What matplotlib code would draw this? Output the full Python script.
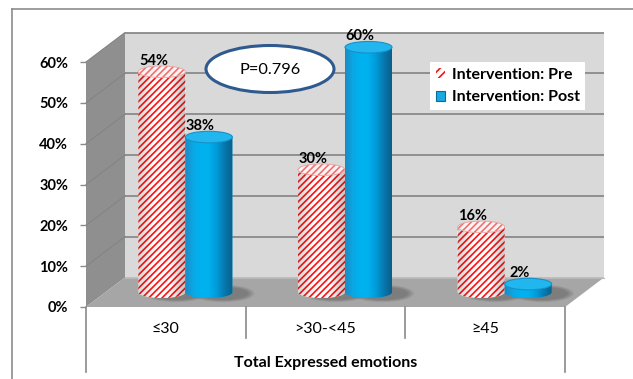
import numpy as np
import matplotlib
matplotlib.use("Agg")
import matplotlib.pyplot as plt
from matplotlib.patches import Polygon, Ellipse, Patch, Rectangle
from matplotlib.lines import Line2D
from matplotlib.colors import LinearSegmentedColormap

# ---- data ----
categories = ["≤30", ">30-<45", "≥45"]
pre_values = [54, 30, 16]
post_values = [38, 60, 2]
series_names = ["Intervention: Pre", "Intervention: Post"]
y_ticks = [0, 10, 20, 30, 40, 50, 60]
group_title = "Total Expressed emotions"
p_text = "P=0.796"

plt.rcParams["font.family"] = ["Lato", "DejaVu Sans"]
plt.rcParams["hatch.linewidth"] = 1.2

W, H = 633, 379
fig = plt.figure(figsize=(W / 100, H / 100), dpi=100)
fig.patch.set_facecolor("white")

# front plane of the 3-D box, in pixels
LEFT, RIGHT, BASE_PX = 86, 565, 307
PX_X = (RIGHT - LEFT) / 3.0      # pixels per category unit
PX_Y = 245 / 60.0                # pixels per percent
YMAX = 70
ax_h = YMAX * PX_Y
ax = fig.add_axes([LEFT / W, 1 - BASE_PX / H, (RIGHT - LEFT) / W, ax_h / H])
ax.set_xlim(0, 3)
ax.set_ylim(0, YMAX)
ax.patch.set_visible(False)
for s in ax.spines.values():
    s.set_visible(False)

# depth vector of the box (data units)
DX = 39 / PX_X
DY = 29.5 / PX_Y
BW = 47 / PX_X          # cylinder diameter
EB = 5.8 / PX_Y         # ellipse half-height
HATCH = "/////"


def ay(ypx):
    """pixel row -> axes fraction"""
    return (BASE_PX - ypx) / ax_h


# walls and floor
ax.add_patch(Rectangle((DX, DY), 3, 60, facecolor="#d9d9d9", edgecolor="none",
                       zorder=0, clip_on=False))
ax.add_patch(Polygon([(0, 0), (DX, DY), (DX, 60 + DY), (0, 60)],
                     facecolor="#8f8f8f", edgecolor="none", zorder=0, clip_on=False))
ax.add_patch(Polygon([(0, 0), (3, 0), (3 + DX, DY), (DX, DY)],
                     facecolor="#a6a6a6", edgecolor="none", zorder=0.5, clip_on=False))
for v in y_ticks[1:]:
    ax.plot([DX, 3 + DX], [v + DY, v + DY], color="#8a8a8a", lw=1.3,
            zorder=0.8, clip_on=False, solid_capstyle="butt")
    ax.plot([0, DX], [v, v + DY], color="#848484", lw=0.8, zorder=0.8, clip_on=False)
ax.plot([DX, 3 + DX], [DY, DY], color="#b8b8b8", lw=0.8, zorder=0.9, clip_on=False)

# y axis
ax.set_yticks(y_ticks)
ax.set_yticklabels([f"{t}%" for t in y_ticks], fontweight="bold", fontsize=10.5)
ax.tick_params(axis="y", length=4.3, width=1, color="#8a8a8a", pad=8.5)
ax.set_xticks([])

# category axis
xt = ax.get_xaxis_transform()
for xb, yend in [(0, 372), (1, 338), (2, 338), (3, 372)]:
    ax.plot([xb, xb], [ay(BASE_PX), ay(yend)], transform=xt, color="#8a8a8a",
            lw=1.2, clip_on=False)
for i, c in enumerate(categories):
    ax.text(i + 0.5, ay(329), c, transform=xt, ha="center", va="center",
            fontsize=11.5)
ax.text(1.5, ay(363), group_title, transform=xt, ha="center", va="center",
        fontsize=11.5, fontweight="bold")

blue_cmap = LinearSegmentedColormap.from_list(
    "cyl", ["#1b8cc4", "#0aa8e6", "#00b2f0", "#00b0ef", "#019ad8", "#0778ae", "#0a5f8c"])
shade_cmap = LinearSegmentedColormap.from_list(
    "shade", [(0.3, 0.3, 0.3, 0.22), (0, 0, 0, 0.0), (0, 0, 0, 0.0), (0.2, 0.2, 0.2, 0.28)])


def body_poly(xc, top):
    base = DY / 2
    yt = top + DY / 2
    th = np.linspace(np.pi, 2 * np.pi, 60)
    pts = [(xc - BW / 2, yt)]
    pts += list(zip(xc + BW / 2 * np.cos(th), base + EB * np.sin(th)))
    pts += [(xc + BW / 2, yt)]
    return pts


def shadow(xc):
    base = DY / 2
    for k in range(5):
        ax.add_patch(Ellipse((xc + 0.3 * BW, base - 0.3), BW * (1.35 - 0.07 * k),
                             2 * EB * (1.5 - 0.1 * k), facecolor="black",
                             alpha=0.05, edgecolor="none", zorder=1, clip_on=False))


def cylinder(xc, top, kind, z):
    yt = top + DY / 2
    body = Polygon(body_poly(xc, top), closed=True, zorder=z, clip_on=False)
    ext = [xc - BW / 2, xc + BW / 2, DY / 2 - EB, yt]
    if kind == "pre":
        body.set_facecolor("white")
        body.set_edgecolor("#ff1010")
        body.set_hatch(HATCH)
        body.set_linewidth(0)
        ax.add_patch(body)
        im = ax.imshow(np.linspace(0, 1, 64)[None, :], extent=ext, aspect="auto",
                       cmap=shade_cmap, zorder=z + 0.1, interpolation="bilinear")
        im.set_clip_path(body)
        top_e = Ellipse((xc, yt), BW, 2 * EB, facecolor="#fff4f4",
                        edgecolor="#f07070", hatch=HATCH, lw=0, zorder=z + 0.2,
                        clip_on=False)
        ax.add_patch(top_e)
        ax.add_patch(Ellipse((xc, yt), BW, 2 * EB, facecolor="none",
                             edgecolor="#e9a0a0", lw=0.6, zorder=z + 0.3, clip_on=False))
    else:
        body.set_facecolor("#00b0f0")
        body.set_edgecolor("none")
        ax.add_patch(body)
        im = ax.imshow(np.linspace(0, 1, 64)[None, :], extent=ext, aspect="auto",
                       cmap=blue_cmap, zorder=z + 0.1, interpolation="bilinear")
        im.set_clip_path(body)
        ax.add_patch(Ellipse((xc, yt), BW, 2 * EB, facecolor="#22b6ee",
                             edgecolor="#1590c8", lw=0.8, zorder=z + 0.2, clip_on=False))


centers = np.arange(len(categories)) + 0.5 + DX / 2
for i in range(len(categories)):
    shadow(centers[i] + BW / 2)
    shadow(centers[i] - BW / 2)
for i in range(len(categories)):
    xr = centers[i] - BW / 2
    xb = centers[i] + BW / 2
    cylinder(xr, pre_values[i], "pre", 3 + i)
    cylinder(xb, post_values[i], "post", 3.5 + i)
    for xc, v in [(xr, pre_values[i]), (xb, post_values[i])]:
        ax.annotate(f"{v}%", xy=(xc, v + DY / 2), xytext=(-6, 8),
                    textcoords="offset points", ha="center", va="center",
                    fontsize=10.5, fontweight="bold", zorder=10, annotation_clip=False)

ax.set_xlim(0, 3)
ax.set_ylim(0, YMAX)

# legend
handles = [Patch(facecolor="white", edgecolor="#ff1010", hatch="////", lw=0),
           Patch(facecolor="#18a8e2", edgecolor="#0b6a9a", lw=0.8)]
leg = ax.legend(handles, series_names, loc="upper left",
                bbox_to_anchor=(430 / W, 1 - 62 / H), bbox_transform=fig.transFigure,
                frameon=True, fancybox=False, framealpha=1, facecolor="white",
                edgecolor="none", prop={"weight": "bold", "size": 11.5},
                handlelength=0.6, handleheight=0.6, handletextpad=0.4,
                labelspacing=0.55, borderpad=0.35, borderaxespad=0)
leg.set_zorder(20)

# p-value callout
fig.add_artist(Ellipse((270 / W, 1 - 69 / H), 128 / W, 47 / H,
                       transform=fig.transFigure, facecolor="white",
                       edgecolor="#2f5a90", lw=2.2, zorder=20))
fig.text(270 / W, 1 - 70 / H, p_text, ha="center", va="center", fontsize=11.8,
         zorder=21)

# chart border
fig.add_artist(Line2D([12 / W, 12 / W], [0, 1 - 9 / H], transform=fig.transFigure,
                      color="#8c8c8c", lw=1.2))
fig.add_artist(Line2D([12 / W, 1], [1 - 9 / H, 1 - 9 / H], transform=fig.transFigure,
                      color="#8c8c8c", lw=1.2))

fig.savefig("out.png", dpi=100, facecolor="white")
